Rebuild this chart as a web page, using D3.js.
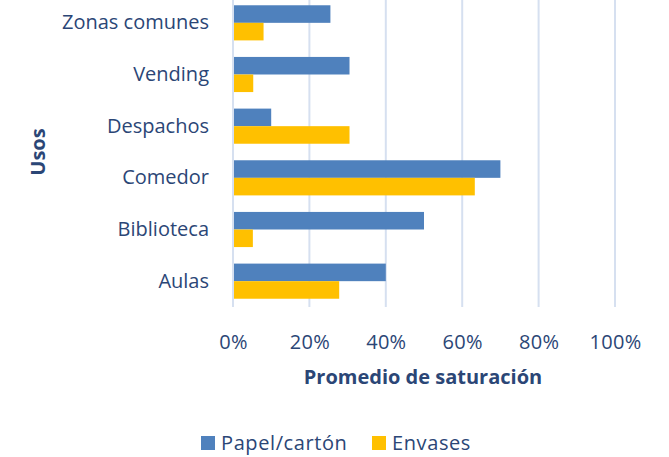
<!DOCTYPE html>
<html>
<head>
<meta charset="utf-8">
<script src="https://cdn.jsdelivr.net/npm/d3@7"></script>
<style>
  html, body { margin: 0; padding: 0; background: #fff; }
  svg text { font-family: "Open Sans", "Liberation Sans", sans-serif; fill: #2B4676; }
</style>
</head>
<body>
<svg id="chart" width="669" height="457"></svg>
<script>
// Datos (promedio de saturación por uso)
const usos = ['Zonas comunes', 'Vending', 'Despachos', 'Comedor', 'Biblioteca', 'Aulas'];
const papelCarton = [0.255, 0.305, 0.10, 0.70, 0.50, 0.40];
const envases = [0.08, 0.053, 0.305, 0.633, 0.052, 0.278];
const series = ['Papel/cartón', 'Envases'];
const colores = ['#4F81BD', '#FFC000'];
const xTicks = [0, 0.2, 0.4, 0.6, 0.8, 1.0];

const svg = d3.select('#chart');
const margin = { top: -3, left: 233, right: 54, bottom: 150 };
const width = 669, height = 457;
const innerW = width - margin.left - margin.right;
const innerH = height - margin.top - margin.bottom;

const x = d3.scaleLinear().domain([0, 1]).range([0, innerW]);
const y = d3.scaleBand().domain(usos).range([0, innerH]).paddingInner(0.32).paddingOuter(0.16);
const ySub = d3.scaleBand().domain(series).range([0, y.bandwidth()]);

const g = svg.append('g').attr('transform', `translate(${margin.left},${margin.top})`);

// Líneas de cuadrícula
g.selectAll('.grid')
  .data(xTicks)
  .enter().append('line')
  .attr('x1', d => x(d)).attr('x2', d => x(d))
  .attr('y1', 0).attr('y2', innerH)
  .attr('stroke', '#D6E0F0').attr('stroke-width', 2);

// Barras
const rows = usos.map((u, i) => ({ uso: u, vals: [papelCarton[i], envases[i]] }));
const grupo = g.selectAll('.grupo').data(rows).enter().append('g')
  .attr('transform', d => `translate(0,${y(d.uso)})`);
grupo.selectAll('rect')
  .data(d => d.vals.map((v, k) => ({ serie: series[k], v, k })))
  .enter().append('rect')
  .attr('x', x(0) + 1)
  .attr('y', d => ySub(d.serie))
  .attr('width', d => x(d.v) - x(0) - 1)
  .attr('height', ySub.bandwidth())
  .attr('fill', d => colores[d.k]);

// Eje X
const xAxis = g.append('g')
  .attr('transform', `translate(0,${innerH})`)
  .call(d3.axisBottom(x).tickValues(xTicks).tickFormat(d3.format('.0%')).tickSize(0).tickPadding(28));
xAxis.select('.domain').remove();
xAxis.selectAll('text').style('font-size', '20px').style('letter-spacing', '0.3px').attr('fill', '#2B4676');

// Eje Y
const yAxis = g.append('g')
  .call(d3.axisLeft(y).tickSize(0).tickPadding(24));
yAxis.select('.domain').remove();
yAxis.selectAll('text').style('font-size', '20px').attr('fill', '#2B4676');

// Títulos de ejes
svg.append('text')
  .attr('x', margin.left + innerW / 2 - 1).attr('y', 384)
  .attr('text-anchor', 'middle')
  .style('font-size', '20px').style('font-weight', 'bold')
  .text('Promedio de saturación');

svg.append('text')
  .attr('transform', 'translate(45,152) rotate(-90)')
  .attr('text-anchor', 'middle')
  .style('font-size', '20px').style('font-weight', 'bold')
  .text('Usos');

// Leyenda
const leyenda = svg.append('g').attr('transform', 'translate(201,436)');
const legX = [0, 171];
series.forEach((s, i) => {
  const it = leyenda.append('g').attr('transform', `translate(${legX[i]},0)`);
  it.append('rect').attr('width', 14).attr('height', 14).attr('fill', colores[i]);
  it.append('text').attr('x', 20).attr('y', 14).style('font-size', '20px').style('letter-spacing', '0.6px').text(s);
});
</script>
</body>
</html>
